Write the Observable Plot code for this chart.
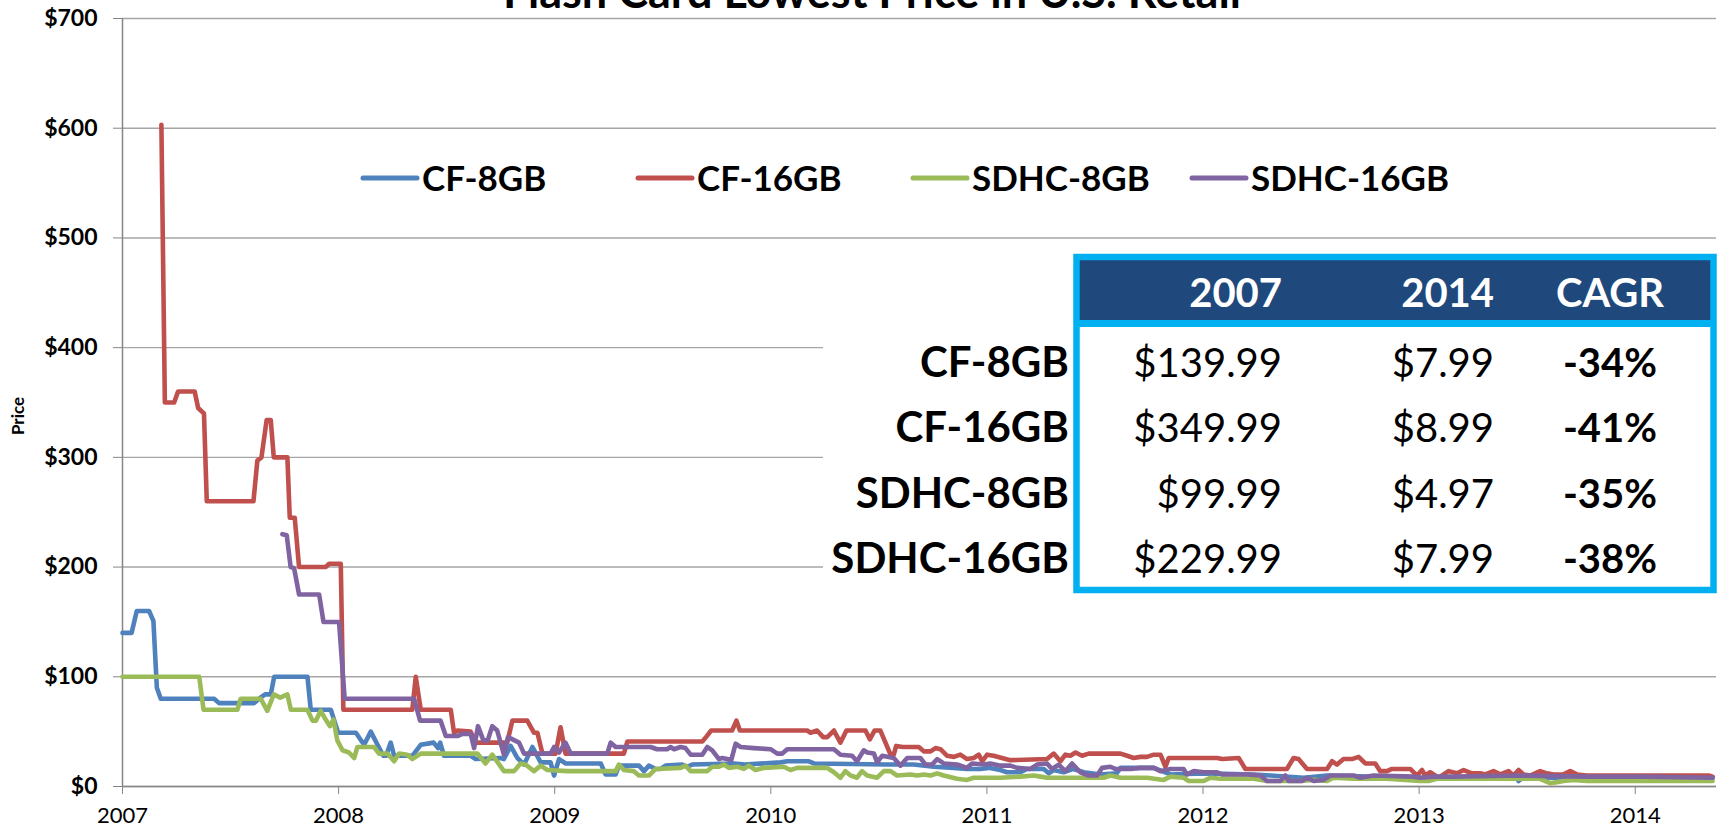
<!DOCTYPE html>
<html>
<head>
<meta charset="utf-8">
<script src="https://cdn.jsdelivr.net/npm/d3@7"></script>
<script src="https://cdn.jsdelivr.net/npm/@observablehq/plot@0.6"></script>
<style>
  html, body { margin: 0; padding: 0; background: #fff; }
  #wrap { position: relative; width: 1721px; height: 833px; overflow: hidden; font-family: Lato, "Noto Sans", sans-serif; }
  #wrap > svg { position: absolute; left: 0; top: 0; }
</style>
</head>
<body>
<div id="wrap"></div>
<script>
// ---------------- DATA ----------------
const seriesNames = ["CF-8GB", "CF-16GB", "SDHC-8GB", "SDHC-16GB"];
const seriesColors = ["#4F81BD", "#C0504D", "#9BBB59", "#8064A2"];
const yearTicks = [2007, 2008, 2009, 2010, 2011, 2012, 2013, 2014];
const priceTicks = [0, 100, 200, 300, 400, 500, 600, 700];

const cf8Years = [2007.000,2007.042,2007.066,2007.123,2007.143,2007.159,2007.177,2007.424,2007.447,2007.609,2007.632,2007.660,2007.686,2007.702,2007.856,2007.871,2007.964,2007.980,2007.998,2008.080,2008.118,2008.149,2008.180,2008.207,2008.220,2008.241,2008.257,2008.341,2008.380,2008.440,2008.460,2008.470,2008.488,2008.611,2008.634,2008.750,2008.765,2008.796,2008.827,2008.858,2008.897,2008.935,2008.981,2008.997,2009.020,2009.051,2009.213,2009.235,2009.282,2009.297,2009.390,2009.413,2009.436,2009.467,2009.490,2009.513,2009.590,2009.613,2009.636,2009.829,2009.880,2010.045,2010.076,2010.176,2010.200,2010.538,2010.661,2010.754,2010.847,2010.908,2010.970,2011.008,2011.062,2011.093,2011.155,2011.186,2011.263,2011.286,2011.309,2011.355,2011.400,2011.448,2011.525,2011.600,2011.618,2011.772,2011.849,2012.003,2012.234,2012.311,2012.466,2012.574,2013.005,2013.450,2013.460,2013.480,2013.868,2014.023,2014.358];
const cf8Prices = [140,140,160,160,151,90,80,80,76,76,80,84,84,100,100,70,70,60,49,49,38,50,38,28,28,40,28,28,38,40,35,40,28,28,25,26,25,37,26,20,36,22,22,10,25,21,21,11,11,19,19,14,19,16,16,19,20,18,20,21,20,22,23,23,21,20,20,18,17,16,16,17,15,13,13,16,16,12,15,13,16,13,11,12,17,17,11,12,11,10,8,10,8,8,5,8,8,8,7.99];

const cf16Years = [2007.180,2007.196,2007.239,2007.257,2007.334,2007.350,2007.377,2007.390,2007.606,2007.624,2007.643,2007.667,2007.686,2007.700,2007.763,2007.774,2007.797,2007.817,2007.940,2007.956,2008.010,2008.022,2008.341,2008.357,2008.380,2008.519,2008.534,2008.550,2008.611,2008.634,2008.780,2008.804,2008.873,2008.904,2008.920,2008.943,2009.004,2009.027,2009.050,2009.320,2009.336,2009.683,2009.700,2009.724,2009.821,2009.841,2009.857,2010.168,2010.184,2010.214,2010.242,2010.261,2010.292,2010.322,2010.350,2010.438,2010.458,2010.480,2010.507,2010.554,2010.569,2010.580,2010.610,2010.685,2010.708,2010.739,2010.762,2010.785,2010.816,2010.847,2010.877,2010.908,2010.939,2010.962,2010.978,2011.001,2011.031,2011.108,2011.278,2011.309,2011.340,2011.363,2011.386,2011.410,2011.440,2011.471,2011.618,2011.649,2011.679,2011.710,2011.741,2011.772,2011.803,2011.826,2011.841,2012.065,2012.088,2012.165,2012.196,2012.388,2012.419,2012.442,2012.481,2012.574,2012.597,2012.620,2012.650,2012.689,2012.720,2012.751,2012.797,2012.820,2012.851,2012.874,2012.959,2012.990,2013.013,2013.028,2013.051,2013.074,2013.090,2013.136,2013.175,2013.206,2013.244,2013.283,2013.306,2013.344,2013.375,2013.414,2013.437,2013.460,2013.483,2013.514,2013.560,2013.591,2013.622,2013.668,2013.699,2013.730,2013.776,2014.023,2014.340,2014.358];
const cf16Prices = [603,350,350,360,360,345,340,260,260,297,300,334,334,300,300,245,245,200,200,203,203,70,70,100,70,70,49,51,50,40,40,60,60,49,49,30,30,54,30,30,41,41,45,51,51,60,51,51,49,51,45,45,51,40,51,51,43,51,51,29,29,37,36,36,32,32,35,34,28,27,29,25,26,29,23,29,28,24,25,30,23,29,28,31,28,30,30,28,26,27,27,29,29,18,26,26,25,26,16,16,26,25,16,16,23,20,25,25,27,21,21,14,14,16,16,10,15,10,13,10,8,14,12,15,12,12,11,14,11,14,10,15,11,10,14,12,11,11,14,11,10,10,10,8.99];

const sd8Years = [2007.000,2007.355,2007.375,2007.532,2007.547,2007.640,2007.670,2007.700,2007.730,2007.763,2007.779,2007.856,2007.879,2007.895,2007.917,2007.940,2007.960,2007.976,2007.994,2008.018,2008.048,2008.072,2008.087,2008.164,2008.187,2008.226,2008.257,2008.280,2008.318,2008.341,2008.380,2008.642,2008.680,2008.711,2008.765,2008.812,2008.842,2008.865,2008.904,2008.935,2008.966,2009.058,2009.282,2009.297,2009.320,2009.366,2009.390,2009.436,2009.467,2009.582,2009.605,2009.629,2009.706,2009.729,2009.760,2009.783,2009.806,2009.845,2009.875,2009.898,2009.929,2009.968,2010.060,2010.091,2010.122,2010.261,2010.292,2010.322,2010.345,2010.369,2010.399,2010.422,2010.446,2010.492,2010.523,2010.554,2010.584,2010.646,2010.677,2010.708,2010.739,2010.770,2010.800,2010.862,2010.908,2010.939,2011.062,2011.155,2011.217,2011.248,2011.278,2011.325,2011.448,2011.540,2011.571,2011.618,2011.741,2011.818,2011.849,2011.910,2011.934,2012.003,2012.034,2012.080,2012.234,2012.296,2012.450,2012.512,2012.574,2012.604,2012.697,2012.850,2013.005,2013.044,2013.082,2013.313,2013.560,2013.606,2013.637,2013.668,2013.714,2013.776,2014.023,2014.330,2014.358];
const sd8Prices = [100,100,70,70,80,80,69,84,81,84,70,70,60,60,69,61,55,61,42,33,31,26,36,36,30,30,23,30,29,25,30,30,21,29,14,14,21,20,14,19,15,14,14,20,15,14,10,10,16,17,19,14,14,18,18,20,17,18,16,19,15,17,18,15,17,17,13,8,14,10,8,14,10,8,14,14,10,11,10,11,10,12,10,7,6,8,8,9,10,9,8,8,8,8,10,8,8,6,9,8,5,5,8,7,7,5,5,6,5,8,7,7,5,5,7,7,7,3,4,5,6,5,5,5,4.97];

const sd16Years = [2007.740,2007.760,2007.778,2007.794,2007.817,2007.910,2007.930,2008.002,2008.028,2008.349,2008.377,2008.472,2008.496,2008.550,2008.573,2008.611,2008.627,2008.645,2008.670,2008.690,2008.711,2008.734,2008.765,2008.784,2008.835,2008.858,2008.981,2008.997,2009.020,2009.050,2009.074,2009.243,2009.259,2009.282,2009.444,2009.474,2009.520,2009.536,2009.552,2009.582,2009.605,2009.629,2009.683,2009.706,2009.729,2009.760,2009.775,2009.798,2009.817,2009.837,2009.860,2009.921,2009.999,2010.030,2010.053,2010.076,2010.292,2010.322,2010.376,2010.399,2010.430,2010.446,2010.477,2010.492,2010.515,2010.569,2010.600,2010.631,2010.692,2010.716,2010.746,2010.770,2010.800,2010.862,2010.908,2010.931,2010.985,2011.016,2011.062,2011.108,2011.140,2011.201,2011.232,2011.278,2011.301,2011.332,2011.363,2011.394,2011.432,2011.471,2011.510,2011.533,2011.571,2011.594,2011.618,2011.664,2011.710,2011.772,2011.803,2011.849,2011.910,2011.926,2011.957,2012.003,2012.065,2012.088,2012.150,2012.203,2012.265,2012.296,2012.358,2012.381,2012.396,2012.458,2012.481,2012.512,2012.558,2012.589,2012.697,2012.728,2012.789,2012.974,2013.005,2013.067,2013.159,2013.468,2013.776,2014.023,2014.358];
const sd16Prices = [230,229,200,199,175,175,150,150,80,80,60,60,46,46,48,48,35,55,42,42,55,51,29,45,40,30,30,36,31,40,30,30,40,36,36,34,34,36,34,36,35,29,29,36,33,25,26,25,24,39,36,35,34,30,30,34,34,29,28,23,33,31,30,22,28,26,19,26,26,20,20,25,21,20,17,21,20,21,19,19,17,16,20,21,16,20,14,21,13,10,10,17,18,16,16,16,17,17,14,16,16,11,14,13,13,11,11,11,10,5,5,10,5,5,8,5,6,10,10,8,10,9,8,9,9,10,9,9,7.99];

const tableHeaders = ["2007", "2014", "CAGR"];
const price2007 = ["$139.99", "$349.99", "$99.99", "$229.99"];
const price2014 = ["$7.99", "$8.99", "$4.97", "$7.99"];
const cagr = ["-34%", "-41%", "-35%", "-38%"];
const chartTitle = "Flash Card Lowest Price in U.S. Retail";
const yLabel = "Price";

// ---------------- BUILD ----------------
const yearsList = [cf8Years, cf16Years, sd8Years, sd16Years];
const pricesList = [cf8Prices, cf16Prices, sd8Prices, sd16Prices];
const rows = seriesNames.flatMap((name, i) =>
  yearsList[i].map((yr, j) => ({series: name, year: yr, price: pricesList[i][j]})));

const W = 1721, H = 833;
const font = "Lato, 'Noto Sans', sans-serif";
const axisGray = "#868686";

const chart = Plot.plot({
  width: W, height: H,
  marginLeft: 122, marginRight: 5, marginTop: 18, marginBottom: 47,
  style: {fontFamily: font, background: "white", overflow: "hidden"},
  x: {type: "linear", domain: [2007, 2014.376]},
  y: {domain: [0, 700]},
  color: {domain: seriesNames, range: seriesColors},
  marks: [
    Plot.gridY(priceTicks, {stroke: "#a6a6a6", strokeOpacity: 1, strokeWidth: 1.4}),
    Plot.ruleY([0], {stroke: axisGray, strokeWidth: 1.5}),
    Plot.ruleX([2007], {stroke: axisGray, strokeWidth: 1.5}),
    Plot.axisY(priceTicks, {tickSize: 9, tickPadding: 16, stroke: axisGray, fill: "black",
      fontSize: 23, fontWeight: "bold", tickFormat: d => "$" + d, label: null}),
    Plot.axisX(yearTicks, {tickSize: 8, tickPadding: 13, stroke: axisGray, fill: "black",
      fontSize: 22, tickFormat: d => String(d), label: null}),
    Plot.line(rows, {x: "year", y: "price", z: "series", stroke: "series",
      strokeWidth: 4.6, strokeLinejoin: "round", strokeLinecap: "round", curve: "linear"})
  ]
});

const wrap = document.getElementById("wrap");
wrap.appendChild(chart);

// ---------------- OVERLAY (title, legend, table) ----------------
const ov = d3.select(wrap).append("svg")
  .attr("width", W).attr("height", H)
  .style("font-family", font);

// Title (cut off at top like the reference)
ov.append("text").attr("x", 872).attr("y", 8).attr("text-anchor", "middle")
  .attr("font-size", 45).attr("font-weight", "bold").attr("fill", "black").text(chartTitle);

// Y axis label
ov.append("text").attr("transform", "translate(24,416) rotate(-90)").attr("text-anchor", "middle")
  .attr("font-size", 17).attr("font-weight", "bold").attr("fill", "black").text(yLabel);

// Legend
const legendLeft = 363, legendStep = 275, legendY = 178;
seriesNames.forEach((name, i) => {
  const g = ov.append("g").attr("transform", `translate(${legendLeft + i * legendStep + (i === 3 ? 4 : 0)},${legendY})`);
  g.append("line").attr("x1", 0).attr("x2", 54).attr("y1", 0).attr("y2", 0)
    .attr("stroke", seriesColors[i]).attr("stroke-width", 5).attr("stroke-linecap", "round");
  g.append("text").attr("x", 59).attr("y", 12.5).attr("font-size", 35).attr("font-weight", "bold")
    .attr("fill", "black").text(name);
});

// Table
const tbl = ov.append("g");
tbl.append("rect").attr("x", 823).attr("y", 254).attr("width", W - 823).attr("height", 340).attr("fill", "white");
tbl.append("rect").attr("x", 1079).attr("y", 257).attr("width", 632).attr("height", 64).attr("fill", "#1F497D");
tbl.append("rect").attr("x", 1076).attr("y", 320).attr("width", 638).attr("height", 7).attr("fill", "#00B0F0");
tbl.append("rect").attr("x", 1076.5).attr("y", 257).attr("width", 637).attr("height", 333)
  .attr("fill", "none").attr("stroke", "#00B0F0").attr("stroke-width", 6.5);

const colRight2007 = 1282, colRight2014 = 1494, colMidCagr = 1610, labelRight = 1069;
const headerBase = 307, rowBase0 = 377, rowStep = 65.3;
[[tableHeaders[0], colRight2007, "end"], [tableHeaders[1], colRight2014, "end"], [tableHeaders[2], colMidCagr, "middle"]]
  .forEach(([t, x, a]) => tbl.append("text").attr("x", x).attr("y", headerBase).attr("text-anchor", a)
    .attr("font-size", 40).attr("font-weight", "bold").attr("fill", "white").text(t));

seriesNames.forEach((name, i) => {
  const yb = rowBase0 + i * rowStep;
  tbl.append("text").attr("x", labelRight).attr("y", yb).attr("text-anchor", "end")
    .attr("font-size", 42).attr("font-weight", "bold").attr("fill", "black").text(name);
  tbl.append("text").attr("x", colRight2007).attr("y", yb).attr("text-anchor", "end")
    .attr("font-size", 40).attr("fill", "black").text(price2007[i]);
  tbl.append("text").attr("x", colRight2014).attr("y", yb).attr("text-anchor", "end")
    .attr("font-size", 40).attr("fill", "black").text(price2014[i]);
  tbl.append("text").attr("x", colMidCagr).attr("y", yb).attr("text-anchor", "middle")
    .attr("font-size", 40).attr("font-weight", "bold").attr("fill", "black").text(cagr[i]);
});
</script>
</body>
</html>
